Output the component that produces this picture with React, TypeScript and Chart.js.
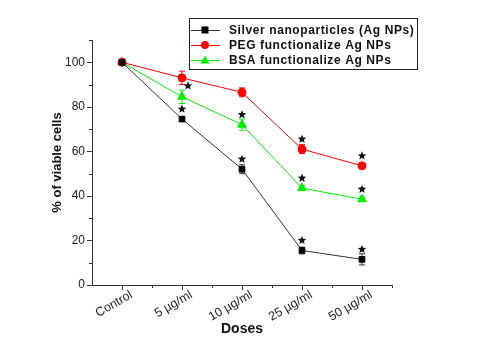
import React, { useEffect, useRef } from 'react';
import { Chart, registerables } from 'chart.js';
Chart.register(...registerables);

const categories = ['Control', '5 µg/ml', '10 µg/ml', '25 µg/ml', '50 µg/ml'];
const silverValues = [100, 74.5, 52, 15.5, 11.5];
const silverErr = [0.5, 1, 2, 1.5, 2.5];
const pegValues = [100, 93, 86.5, 61, 53.5];
const pegErr = [0.5, 3, 2, 2, 1];
const bsaValues = [100, 84.5, 72, 43.5, 38.5];
const bsaErr = [0.5, 3, 2.5, 1, 1];
const silverStars = [false, true, true, true, true];
const pegStars = [false, false, false, true, true];
const bsaStars = [false, true, true, true, true];
const yMajorTicks = [0, 20, 40, 60, 80, 100];

const FONT = '"Liberation Sans", Arial, sans-serif';

function drawStar(ctx: CanvasRenderingContext2D, cx: number, cy: number, r: number) {
  ctx.beginPath();
  for (let i = 0; i < 10; i++) {
    const rad = i % 2 === 0 ? r : r * 0.45;
    const a = -Math.PI / 2 + (i * Math.PI) / 5;
    const x = cx + rad * Math.cos(a);
    const y = cy + rad * Math.sin(a);
    if (i === 0) ctx.moveTo(x, y);
    else ctx.lineTo(x, y);
  }
  ctx.closePath();
  ctx.fill();
}

const extrasPlugin = {
  id: 'extras',
  beforeDatasetsDraw(chart: any) {
    const ctx = chart.ctx;
    const y = chart.scales.y;
    chart.data.datasets.forEach((ds: any, di: number) => {
      const meta = chart.getDatasetMeta(di);
      ctx.save();
      ctx.strokeStyle = ds.borderColor;
      ctx.lineWidth = 1;
      meta.data.forEach((pt: any, i: number) => {
        const e = ds.errors[i];
        if (!e) return;
        const yt = y.getPixelForValue(ds.data[i] + e);
        const yb = y.getPixelForValue(ds.data[i] - e);
        ctx.beginPath();
        ctx.moveTo(pt.x, yt);
        ctx.lineTo(pt.x, yb);
        ctx.moveTo(pt.x - 3, yt);
        ctx.lineTo(pt.x + 3, yt);
        ctx.moveTo(pt.x - 3, yb);
        ctx.lineTo(pt.x + 3, yb);
        ctx.stroke();
      });
      ctx.restore();
    });
  },
  afterDraw(chart: any) {
    const ctx = chart.ctx;
    const xs = chart.scales.x;
    const ys = chart.scales.y;
    const area = chart.chartArea;
    ctx.save();
    ctx.strokeStyle = '#333';
    ctx.lineWidth = 1;
    // y ticks
    for (let v = 0; v <= 110; v += 10) {
      const py = Math.round(ys.getPixelForValue(v)) + 0.5;
      const len = v % 20 === 0 ? 5 : 3;
      ctx.beginPath();
      ctx.moveTo(area.left, py);
      ctx.lineTo(area.left - len, py);
      ctx.stroke();
    }
    // x ticks and labels
    const n = categories.length;
    ctx.font = '12.5px ' + FONT;
    ctx.fillStyle = '#222';
    for (let i = 0; i < n; i++) {
      const px = Math.round(xs.getPixelForValue(i)) + 0.5;
      ctx.beginPath();
      ctx.moveTo(px, area.bottom);
      ctx.lineTo(px, area.bottom + 5);
      ctx.stroke();
      const mx = Math.round(xs.getPixelForValue(i + 0.5)) + 0.5;
      ctx.beginPath();
      ctx.moveTo(mx, area.bottom);
      ctx.lineTo(mx, area.bottom + 3);
      ctx.stroke();
      ctx.save();
      ctx.translate(px + 9, area.bottom + 9);
      ctx.rotate(-Math.PI / 6);
      ctx.textAlign = 'right';
      ctx.textBaseline = 'middle';
      ctx.fillText(categories[i], 0, 0);
      ctx.restore();
    }
    ctx.restore();

    // stars
    ctx.save();
    ctx.fillStyle = '#111';
    chart.data.datasets.forEach((ds: any, di: number) => {
      const meta = chart.getDatasetMeta(di);
      meta.data.forEach((pt: any, i: number) => {
        if (!ds.stars[i]) return;
        const dx = ds.starDx ? ds.starDx[i] : 0;
        const dy = ds.starDy ? ds.starDy[i] : -10;
        drawStar(ctx, pt.x + dx, pt.y + dy, 4.5);
      });
    });
    ctx.restore();

    // legend
    const bx = 189, by = 18, bw = 228, bh = 51;
    ctx.save();
    ctx.strokeStyle = '#222';
    ctx.lineWidth = 1;
    ctx.strokeRect(bx + 0.5, by + 0.5, bw, bh);
    ctx.font = 'bold 12px ' + FONT;
    (ctx as any).letterSpacing = '0.6px';
    ctx.textBaseline = 'middle';
    chart.data.datasets.forEach((ds: any, di: number) => {
      const ry = by + 12 + di * 15;
      ctx.strokeStyle = ds.borderColor;
      ctx.lineWidth = 1;
      ctx.beginPath();
      ctx.moveTo(bx + 2, ry + 0.5);
      ctx.lineTo(bx + 31, ry + 0.5);
      ctx.stroke();
      ctx.fillStyle = ds.pointBackgroundColor;
      const mx = bx + 16;
      if (ds.pointStyle === 'rect') {
        ctx.fillRect(mx - 3.5, ry - 3.5, 7, 7);
      } else if (ds.pointStyle === 'circle') {
        ctx.beginPath();
        ctx.arc(mx, ry, 4, 0, Math.PI * 2);
        ctx.fill();
      } else {
        ctx.beginPath();
        ctx.moveTo(mx, ry - 4.5);
        ctx.lineTo(mx + 4.5, ry + 3.5);
        ctx.lineTo(mx - 4.5, ry + 3.5);
        ctx.closePath();
        ctx.fill();
      }
      ctx.fillStyle = '#111';
      ctx.fillText(ds.label, bx + 40, ry + 1);
    });
    ctx.restore();
  },
};

export default function App() {
  const ref = useRef<HTMLCanvasElement>(null);
  useEffect(() => {
    const chart = new Chart(ref.current as HTMLCanvasElement, {
      type: 'line',
      data: {
        labels: categories,
        datasets: [
          {
            label: 'Silver nanoparticles (Ag NPs)',
            data: silverValues,
            errors: silverErr,
            stars: silverStars,
            borderColor: '#333333',
            backgroundColor: '#000',
            pointBackgroundColor: '#000',
            pointBorderColor: '#000',
            pointStyle: 'rect',
            pointRadius: 4,
            borderWidth: 1,
          } as any,
          {
            label: 'PEG functionalize Ag NPs',
            data: pegValues,
            errors: pegErr,
            stars: pegStars,
            borderColor: '#ff0000',
            backgroundColor: '#ff0000',
            pointBackgroundColor: '#ff0000',
            pointBorderColor: '#ff0000',
            pointStyle: 'circle',
            pointRadius: 4,
            borderWidth: 1,
          } as any,
          {
            label: 'BSA functionalize Ag NPs',
            data: bsaValues,
            errors: bsaErr,
            stars: bsaStars,
            starDx: [0, 6, 0, 0, 0],
            starDy: [-10, -11, -10, -10, -10],
            borderColor: '#00ee00',
            backgroundColor: '#00ee00',
            pointBackgroundColor: '#00ee00',
            pointBorderColor: '#00ee00',
            pointStyle: 'triangle',
            pointRadius: 5,
            borderWidth: 1,
          } as any,
        ],
      },
      options: {
        animation: false,
        responsive: false,
        layout: { padding: { left: 50, right: 88, top: 40, bottom: 12 } },
        plugins: { legend: { display: false }, tooltip: { enabled: false } },
        scales: {
          x: {
            type: 'category',
            offset: true,
            grid: { display: false, drawTicks: false },
            border: { display: true, color: '#333', width: 1 },
            ticks: { display: false },
            title: {
              display: true,
              text: 'Doses',
              color: '#111',
              font: { family: FONT, size: 14, weight: 'bold' },
              padding: { top: 0, bottom: 0 },
            },
            afterFit: (s: any) => { s.height = 53; },
          },
          y: {
            min: 0,
            max: 110,
            grid: { display: false, drawTicks: false },
            border: { display: true, color: '#333', width: 1 },
            afterBuildTicks: (s: any) => { s.ticks = yMajorTicks.map((v) => ({ value: v })); },
            ticks: {
              color: '#222',
              font: { family: FONT, size: 12 },
              padding: 7,
            },
            title: {
              display: true,
              text: '% of viable cells',
              color: '#111',
              font: { family: FONT, size: 13, weight: 'bold' },
              padding: { top: 0, bottom: 0 },
            },
            afterFit: (s: any) => { s.width = 42; },
          },
        },
      } as any,
      plugins: [extrasPlugin],
    });
    return () => chart.destroy();
  }, []);
  return (
    <div style={{ position: 'fixed', left: 0, top: 0, width: 480, height: 350, background: '#fff' }}>
      <canvas ref={ref} width={480} height={350} />
    </div>
  );
}
